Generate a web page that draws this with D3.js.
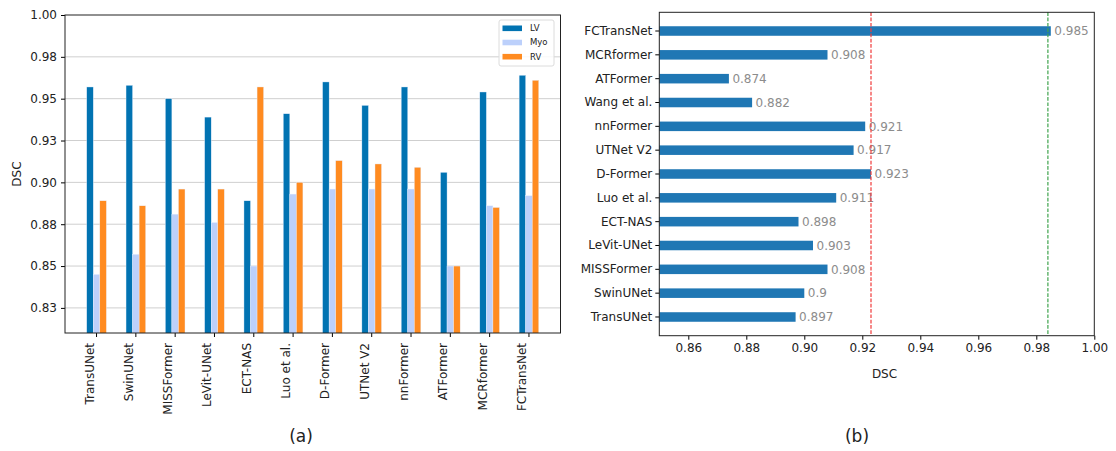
<!DOCTYPE html>
<html>
<head>
<meta charset="utf-8">
<script src="https://cdn.jsdelivr.net/npm/d3@7"></script>
<style>
  body { margin: 0; background: #fff; }
  svg { display: block; }
  svg text { font-family: "DejaVu Sans", sans-serif; }
  .tick text { fill: #222; }
</style>
</head>
<body>
<div id="figure"></div>
<script>
// Data - panel (a)
var models = ["TransUNet", "SwinUNet", "MISSFormer", "LeVit-UNet", "ECT-NAS", "Luo et al.",
  "D-Former", "UTNet V2", "nnFormer", "ATFormer", "MCRformer", "FCTransNet"];
var seriesNames = ["LV", "Myo", "RV"];
var lvValues = [0.957, 0.958, 0.950, 0.939, 0.889, 0.941, 0.960, 0.946, 0.957, 0.906, 0.954, 0.964];
var myoValues = [0.845, 0.857, 0.881, 0.876, 0.850, 0.893, 0.896, 0.896, 0.896, 0.850, 0.886, 0.892];
var rvValues = [0.889, 0.886, 0.896, 0.896, 0.957, 0.900, 0.913, 0.911, 0.909, 0.850, 0.885, 0.961];
var yTickValues = [0.825, 0.85, 0.875, 0.9, 0.925, 0.95, 0.975, 1.0];
var yTickLabels = ["0.83", "0.85", "0.88", "0.90", "0.93", "0.95", "0.98", "1.00"];

// Data - panel (b)
var meanModels = ["FCTransNet", "MCRformer", "ATFormer", "Wang et al.", "nnFormer", "UTNet V2",
  "D-Former", "Luo et al.", "ECT-NAS", "LeVit-UNet", "MISSFormer", "SwinUNet", "TransUNet"];
var meanValues = [0.985, 0.908, 0.874, 0.882, 0.921, 0.917, 0.923, 0.911, 0.898, 0.903, 0.908, 0.9, 0.897];
var refLines = [0.923, 0.984];
var xTickValues = [0.86, 0.88, 0.90, 0.92, 0.94, 0.96, 0.98, 1.00];

var colors = { LV: "#0173b2", Myo: "#bcd0fb", RV: "#ff8b20" };
var fontSize = 12;

var svg = d3.select("#figure")
  .append("svg")
  .attr("width", 1116)
  .attr("height", 451);

svg.append("rect").attr("width", 1116).attr("height", 451).attr("fill", "#fff");

// ---------------- Panel (a): grouped bars ----------------
var a = { left: 65, right: 560.5, top: 15, bottom: 333 };

var xA = d3.scaleBand()
  .domain(models)
  .range([a.left, a.right])
  .paddingInner(0.5)
  .paddingOuter(0.5525);

var xInner = d3.scaleBand()
  .domain(seriesNames)
  .range([0, xA.bandwidth()]);

var yA = d3.scaleLinear()
  .domain([0.81, 1.0])
  .range([a.bottom, a.top]);

var rows = models.map(function(m, i) {
  return { model: m, LV: lvValues[i], Myo: myoValues[i], RV: rvValues[i] };
});

var gA = svg.append("g");

// gridlines
gA.append("g")
  .selectAll("line")
  .data(yTickValues.slice(0, -1))
  .enter().append("line")
  .attr("x1", a.left).attr("x2", a.right)
  .attr("y1", d => yA(d)).attr("y2", d => yA(d))
  .attr("stroke", "#cfcfcf")
  .attr("stroke-width", 1);

// bars
gA.append("defs").append("clipPath").attr("id", "clipA")
  .append("rect")
  .attr("x", a.left).attr("y", a.top)
  .attr("width", a.right - a.left).attr("height", a.bottom - a.top);

var groups = gA.append("g")
  .attr("clip-path", "url(#clipA)")
  .selectAll("g")
  .data(rows)
  .enter().append("g")
  .attr("transform", d => `translate(${xA(d.model)},0)`);

groups.selectAll("rect")
  .data(d => seriesNames.map(s => ({ key: s, value: d[s] })))
  .enter().append("rect")
  .attr("x", d => xInner(d.key))
  .attr("y", d => yA(d.value))
  .attr("width", xInner.bandwidth())
  .attr("height", d => a.bottom - yA(d.value) + 2)
  .attr("fill", d => colors[d.key])
  .attr("stroke", "#e8f0ff")
  .attr("stroke-width", 0.4);

// axes
var leftAxisA = d3.axisLeft(yA)
  .tickValues(yTickValues)
  .tickFormat((d, i) => yTickLabels[i])
  .tickSize(4)
  .tickPadding(4);

gA.append("g")
  .attr("transform", `translate(${a.left},0)`)
  .call(leftAxisA)
  .call(g => g.select(".domain").remove())
  .selectAll("text").attr("font-size", fontSize);

var bottomAxisA = d3.axisBottom(xA).tickSize(4).tickFormat("");
gA.append("g")
  .attr("transform", `translate(0,${a.bottom})`)
  .call(bottomAxisA)
  .call(g => g.select(".domain").remove());

// rotated category labels
gA.append("g")
  .selectAll("text")
  .data(models)
  .enter().append("text")
  .attr("transform", d => `translate(${xA(d) + xA.bandwidth() / 2},${a.bottom + 10}) rotate(-90)`)
  .attr("dy", -3)
  .attr("text-anchor", "end")
  .attr("font-size", fontSize)
  .attr("fill", "#222")
  .text(d => d);

// frame
gA.append("rect")
  .attr("x", a.left).attr("y", a.top)
  .attr("width", a.right - a.left).attr("height", a.bottom - a.top)
  .attr("fill", "none")
  .attr("stroke", "#222")
  .attr("stroke-width", 1);

// y label
gA.append("text")
  .attr("transform", `translate(20.5,${(a.top + a.bottom) / 2}) rotate(-90)`)
  .attr("text-anchor", "middle")
  .attr("font-size", fontSize)
  .attr("fill", "#222")
  .text("DSC");

// legend
var legend = gA.append("g").attr("transform", "translate(499,20)");
legend.append("rect")
  .attr("width", 55).attr("height", 46)
  .attr("rx", 2)
  .attr("fill", "#fff")
  .attr("fill-opacity", 0.85)
  .attr("stroke", "#dcdcdc");

var legendItems = legend.selectAll(".item")
  .data(seriesNames)
  .enter().append("g")
  .attr("class", "item")
  .attr("transform", (d, i) => `translate(3.5,${8.3 + i * 14.2})`);

legendItems.append("rect")
  .attr("y", -2.8)
  .attr("width", 19.5).attr("height", 5.6)
  .attr("fill", d => colors[d]);

legendItems.append("text")
  .attr("x", 27.5)
  .attr("dy", "0.35em")
  .attr("font-size", 8.5)
  .attr("fill", "#222")
  .text(d => d);

// ---------------- Panel (b): horizontal bars ----------------
var b = { left: 659.3, right: 1094.3, top: 12.3, bottom: 335.7 };

var xB = d3.scaleLinear()
  .domain([0.85, 1.0])
  .range([b.left, b.right]);

var yB = d3.scaleBand()
  .domain(meanModels)
  .range([b.top, b.bottom])
  .paddingInner(0.6)
  .paddingOuter(0.585);

var gB = svg.append("g");
var meanRows = meanModels.map((m, i) => ({ model: m, value: meanValues[i] }));

gB.append("g")
  .selectAll("rect")
  .data(meanRows)
  .enter().append("rect")
  .attr("x", b.left)
  .attr("y", d => yB(d.model))
  .attr("width", d => xB(d.value) - b.left)
  .attr("height", yB.bandwidth())
  .attr("fill", "#1f77b4");

// value labels
gB.append("g")
  .selectAll("text")
  .data(meanRows)
  .enter().append("text")
  .attr("x", d => xB(d.value) + 3.5)
  .attr("y", d => yB(d.model) + yB.bandwidth() / 2)
  .attr("dy", "0.36em")
  .attr("font-size", fontSize)
  .attr("fill", "#8c8c8c")
  .text(d => String(d.value));

// reference lines
gB.append("g")
  .selectAll("line")
  .data(refLines)
  .enter().append("line")
  .attr("x1", d => xB(d)).attr("x2", d => xB(d))
  .attr("y1", b.top).attr("y2", b.bottom)
  .attr("stroke", (d, i) => i === 0 ? "#f03a3a" : "#3fa34d")
  .attr("stroke-width", 1.2)
  .attr("stroke-dasharray", "3.7,1.6");

// axes
var leftAxisB = d3.axisLeft(yB).tickSize(4).tickPadding(3);
gB.append("g")
  .attr("transform", `translate(${b.left},0)`)
  .call(leftAxisB)
  .call(g => g.select(".domain").remove())
  .selectAll("text").attr("font-size", fontSize);

var bottomAxisB = d3.axisBottom(xB)
  .tickValues(xTickValues)
  .tickFormat(d3.format(".2f"))
  .tickSize(4)
  .tickPadding(4);
gB.append("g")
  .attr("transform", `translate(0,${b.bottom})`)
  .call(bottomAxisB)
  .call(g => g.select(".domain").remove())
  .selectAll("text").attr("font-size", fontSize);

gB.append("rect")
  .attr("x", b.left).attr("y", b.top)
  .attr("width", b.right - b.left).attr("height", b.bottom - b.top)
  .attr("fill", "none")
  .attr("stroke", "#222")
  .attr("stroke-width", 1);

gB.append("text")
  .attr("x", 884.5)
  .attr("y", 378)
  .attr("text-anchor", "middle")
  .attr("font-size", fontSize)
  .attr("fill", "#222")
  .text("DSC");

// sub captions
svg.append("text")
  .attr("x", 301).attr("y", 442)
  .attr("text-anchor", "middle")
  .attr("font-size", 17)
  .attr("fill", "#222")
  .text("(a)");

svg.append("text")
  .attr("x", 857).attr("y", 442)
  .attr("text-anchor", "middle")
  .attr("font-size", 17)
  .attr("fill", "#222")
  .text("(b)");
</script>
</body>
</html>
